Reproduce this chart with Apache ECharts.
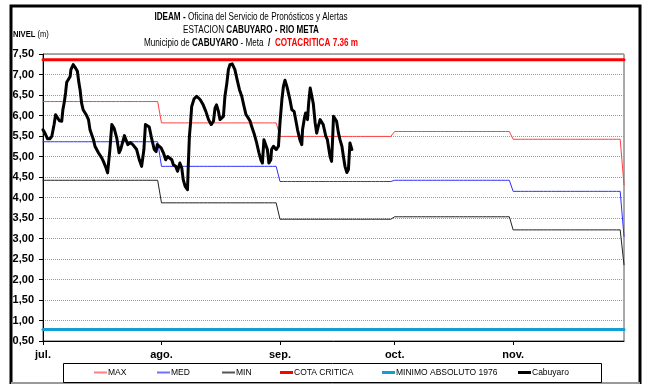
<!DOCTYPE html>
<html>
<head>
<meta charset="utf-8">
<script src="https://cdn.jsdelivr.net/npm/echarts@6/dist/echarts.min.js"></script>
<style>
  html, body { margin: 0; padding: 0; background: #fff; }
  #chart { width: 650px; height: 386px; }
</style>
</head>
<body>
<div id="chart"></div>
<script>
// Month labels and the day (counted from 1 July) on which each month starts
const monthLabels = ['jul.', 'ago.', 'sep.', 'oct.', 'nov.'];
const monthStartDay = [0, 31, 62, 92, 123];
const lastDay = 152;

// Historical monthly reference levels (m) and the closing value of the period
const maxMonthly = [6.34, 5.82, 5.49, 5.61, 5.42];
const maxClosing = 4.31;
const medMonthly = [5.36, 4.76, 4.39, 4.42, 4.15];
const medClosing = 3.05;
const minMonthly = [4.42, 3.87, 3.47, 3.53, 3.21];
const minClosing = 2.36;

// Critical level and absolute minimum (1976)
const cotaCritica = 7.36;
const minimoAbsoluto = 0.78;

// Cabuyaro station readings: time (days since 1 July) and level (m)
const cabuyaroDay = [
  0,0.5,1.2,1.8,2.3,2.9,3.3,3.7,4.3,4.9,
  5.2,5.6,5.9,6.2,6.6,7.1,7.3,7.9,8.5,9.0,
  9.4,9.7,10.1,10.5,11.3,11.9,12.3,13.2,13.6,14.5,
  15.4,15.8,16.5,16.9,17.5,18.0,18.6,19.3,19.9,20.3,
  20.9,21.3,21.7,22.2,22.8,23.5,23.9,24.5,25.2,25.8,
  26.4,26.8,27.3,27.8,28.3,28.7,29.1,29.6,29.9,30.4,
  30.9,31.5,32.1,32.6,33.0,33.7,34.1,34.7,35.2,35.8,
  36.3,36.7,37.2,37.8,38.0,38.3,38.6,38.9,39.5,40.2,
  41.1,41.9,42.6,43.3,44.0,44.6,45.0,45.4,45.9,46.3,
  46.8,47.2,47.6,48.1,48.5,48.9,49.5,50.2,50.8,51.4,
  52.0,52.6,53.1,53.7,54.2,54.6,55.2,55.9,56.5,57.0,
  57.4,57.8,58.3,58.7,59.1,59.6,59.8,60.3,61.0,61.6,
  62.0,62.5,62.9,63.3,63.8,64.2,64.6,65.1,65.7,66.1,
  66.6,67.2,67.7,67.9,68.4,68.7,69.2,69.5,69.9,70.3,
  70.7,71.2,71.6,72.0,72.5,72.9,73.3,74.0,74.4,74.8,
  75.1,75.5,75.8,76.0,76.4,76.8,77.3,77.7,78.2,78.6,
  79.0,79.5,79.9,80.1,80.3,80.6,80.8
];
const cabuyaroLevel = [
  5.65,5.57,5.43,5.43,5.49,5.78,6.02,5.98,5.87,5.86,
  6.14,6.34,6.55,6.81,6.87,6.95,7.12,7.24,7.16,7.08,
  6.79,6.63,6.30,6.14,6.02,5.90,5.65,5.41,5.25,5.09,
  4.96,4.88,4.72,4.60,5.17,5.78,5.69,5.45,5.09,5.17,
  5.37,5.51,5.41,5.29,5.34,5.29,5.33,5.17,4.92,4.76,
  5.17,5.78,5.80,5.72,5.49,5.33,5.17,5.12,5.29,5.33,
  5.21,5.09,4.92,5.00,5.02,4.92,4.80,4.76,4.64,4.84,
  4.72,4.43,4.27,4.19,4.76,5.49,5.82,6.22,6.40,6.47,
  6.39,6.26,6.10,5.90,5.78,5.86,6.18,6.26,6.10,5.90,
  5.86,5.98,6.47,6.79,7.12,7.24,7.26,7.12,6.87,6.63,
  6.47,6.22,6.02,5.94,5.86,5.73,5.57,5.33,5.09,4.92,
  4.84,5.41,5.43,5.17,4.84,4.92,5.17,5.25,5.17,5.25,
  5.82,6.39,6.71,6.86,6.71,6.55,6.39,6.14,6.10,5.90,
  5.65,5.41,5.29,5.65,5.94,6.06,5.90,6.30,6.67,6.63,
  6.30,5.82,5.57,5.73,5.90,5.90,5.78,5.49,5.41,5.17,
  5.00,4.88,5.49,5.98,6.00,5.86,5.57,5.41,5.25,5.00,
  4.76,4.61,4.68,5.00,5.33,5.29,5.17
];

// Y axis range
const yMin = 0.5, yMax = 7.5, yStep = 0.5;

const FONT = '"Liberation Sans", Arial, sans-serif';

// Daily step series from monthly values; the last day carries the closing value
function dailySteps(monthly, closing) {
  const out = [];
  for (let d = 0; d <= lastDay; d++) {
    let m = 0;
    for (let i = 0; i < monthStartDay.length; i++) if (d >= monthStartDay[i]) m = i;
    out.push([d, d === lastDay ? closing : monthly[m]]);
  }
  return out;
}
function flat(v) { return [[0, v], [lastDay, v]]; }

const seriesDefs = [
  { name: 'MAX', data: dailySteps(maxMonthly, maxClosing), color: '#ff4040', width: 1, legendColor: '#ff8080', legendH: 2 },
  { name: 'MED', data: dailySteps(medMonthly, medClosing), color: '#3030ff', width: 1, legendColor: '#7070ff', legendH: 2 },
  { name: 'MIN', data: dailySteps(minMonthly, minClosing), color: '#222222', width: 1, legendColor: '#555555', legendH: 2 },
  { name: 'COTA CRITICA', data: flat(cotaCritica), color: '#ff0000', width: 3, legendColor: '#ff0000', legendH: 3 },
  { name: 'MINIMO ABSOLUTO 1976', data: flat(minimoAbsoluto), color: '#109ed4', width: 3, legendColor: '#109ed4', legendH: 3 },
  { name: 'Cabuyaro', data: cabuyaroDay.map((d, i) => [d, cabuyaroLevel[i]]), color: '#000000', width: 3, legendColor: '#000000', legendH: 3 }
];

const legendLeft = [94, 157, 222, 280, 382, 518];

const chart = echarts.init(document.getElementById('chart'), null, { renderer: 'canvas' });

chart.setOption({
  animation: false,
  backgroundColor: '#ffffff',
  grid: { left: 43, top: 54, right: 26, bottom: 45, show: true, borderColor: '#555', borderWidth: 1, backgroundColor: 'transparent' },
  xAxis: {
    type: 'value', min: 0, max: lastDay,
    axisLine: { show: true, lineStyle: { color: '#000', width: 1 } },
    axisTick: { show: true, length: 4, lineStyle: { color: '#000' }, customValues: monthStartDay },
    axisLabel: {
      customValues: monthStartDay, margin: 8,
      formatter: v => monthLabels[monthStartDay.indexOf(v)] || '',
      fontFamily: FONT, fontSize: 11, fontWeight: 'bold', color: '#000'
    },
    splitLine: { show: false }
  },
  yAxis: {
    type: 'value', min: yMin, max: yMax, interval: yStep,
    axisLine: { show: true, lineStyle: { color: '#000', width: 1 } },
    axisTick: { show: true, length: 4, lineStyle: { color: '#000' } },
    axisLabel: {
      margin: 9, formatter: v => v.toFixed(2).replace('.', ','),
      fontFamily: FONT, fontSize: 11, fontWeight: 'bold', color: '#000'
    },
    splitLine: { show: true, lineStyle: { color: '#9a9a9a', type: 'dotted', width: 1 } }
  },
  legend: seriesDefs.map((s, i) => ({
    data: [{ name: s.name, icon: 'rect', itemStyle: { color: s.legendColor } }],
    left: legendLeft[i], top: 368, padding: 0,
    itemWidth: 13, itemHeight: s.legendH, selectedMode: false,
    textStyle: { fontFamily: FONT, fontSize: 8.5, color: '#000', padding: [0, 0, 0, -4] }
  })),
  series: seriesDefs.map((s, i) => ({
    name: s.name, type: 'line', data: s.data, symbol: 'none', showSymbol: false,
    smooth: false, z: 2 + i,
    lineStyle: { color: s.color, width: s.width, join: 'round', cap: 'round' },
    itemStyle: { color: s.color },
    emphasis: { disabled: true }
  })),
  graphic: [
    // outer frame
    { type: 'polyline', shape: { points: [[11, 384], [11, 6], [640, 6], [640, 384]] }, style: { stroke: '#000', lineWidth: 3, fill: null }, z: 100 },
    { type: 'line', shape: { x1: 11, y1: 383, x2: 640, y2: 383 }, style: { stroke: '#999', lineWidth: 2 }, z: 100 },
    // legend box
    { type: 'rect', shape: { x: 63.5, y: 363.5, width: 538, height: 19 }, style: { stroke: '#000', lineWidth: 1, fill: null }, z: 100 },
    // title block (condensed lettering)
    {
      type: 'text', x: 251, y: 10, scaleX: 0.74, z: 100,
      style: {
        align: 'center', verticalAlign: 'top',
        text: '{b|IDEAM -} {n|Oficina del Servicio de Pronósticos y Alertas}\n{n|ESTACION }{b|CABUYARO - RIO META}\n{n|Municipio de }{b|CABUYARO}{n| - Meta  }{b|/}{n|  }{r|COTACRITICA 7.36 m}',
        fontFamily: FONT, fontSize: 11, lineHeight: 13, fill: '#000',
        rich: {
          b: { fontFamily: FONT, fontSize: 11, fontWeight: 'bold', lineHeight: 13, fill: '#000' },
          n: { fontFamily: FONT, fontSize: 11, lineHeight: 13, fill: '#000' },
          r: { fontFamily: FONT, fontSize: 11, fontWeight: 'bold', lineHeight: 13, fill: '#ff0000' }
        }
      }
    },
    // y axis title
    {
      type: 'text', x: 13, y: 29, scaleX: 0.8, z: 100,
      style: {
        text: '{b|NIVEL} {n|(m)}',
        fontFamily: FONT, fontSize: 9.5,
        rich: {
          b: { fontFamily: FONT, fontSize: 9.5, fontWeight: 'bold', fill: '#000' },
          n: { fontFamily: FONT, fontSize: 9.5, fill: '#000' }
        }
      }
    }
  ]
});
</script>
</body>
</html>
